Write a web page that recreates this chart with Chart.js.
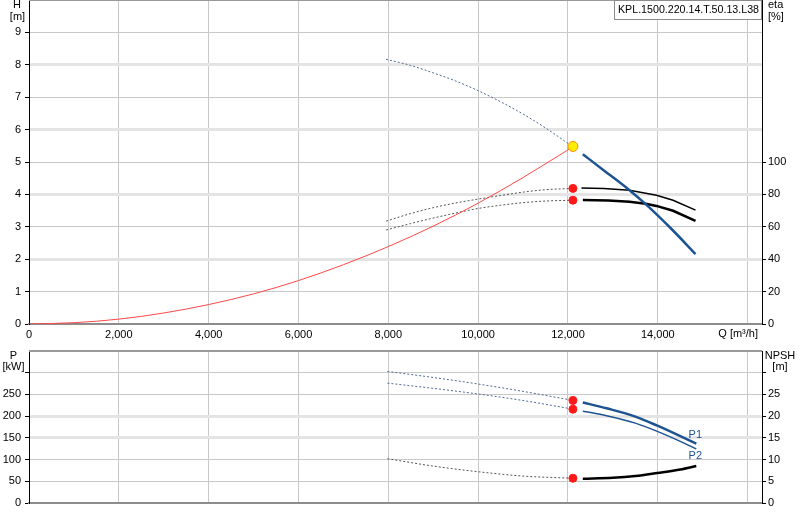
<!DOCTYPE html>
<html>
<head>
<meta charset="utf-8">
<script src="https://cdn.jsdelivr.net/npm/chart.js@4.4.0/dist/chart.umd.min.js"></script>
<style>
    html, body { margin: 0; padding: 0; background: #fff; }
    #wrap { position: relative; width: 800px; height: 520px; }
    #topChart { position: absolute; left: 0; top: 0; }
    #bottomChart { position: absolute; left: 0; top: 340px; }
</style>
</head>
<body>
<div id="wrap">
    <canvas id="topChart" width="800" height="340"></canvas>
    <canvas id="bottomChart" width="800" height="180"></canvas>
</div>
<script>
const FONT = '"Liberation Sans", Arial, sans-serif';
Chart.defaults.font.family = FONT;
Chart.defaults.font.size = 11;
Chart.defaults.color = '#000';
Chart.defaults.animation = false;

const pumpName = 'KPL.1500.220.14.T.50.13.L38';

// Tick labels
const qTicks = [0, 2000, 4000, 6000, 8000, 10000, 12000, 14000, 16000];
const hTicks = [0, 1, 2, 3, 4, 5, 6, 7, 8, 9];
const etaTicks = [0, 20, 40, 60, 80, 100];
const pTicks = [0, 50, 100, 150, 200, 250, 300];
const npshTicks = [0, 5, 10, 15, 20, 25, 30];

// Operating point
const qOp = 12110;
const hOp = 5.48;
const etaOp = [83.7, 76.4];
const pOp = [236, 216];
const npshOp = 5.7;

// System curve
const qSystem = [0, 1000, 2000, 3000, 4000, 5000, 6000, 7000, 8000, 9000, 10000, 11000, 12110];
const hSystem = [0, 0.04, 0.15, 0.34, 0.6, 0.93, 1.34, 1.83, 2.39, 3.02, 3.73, 4.52, 5.47];

// Pump head H (dashed outside range, solid in range)
const qHeadDash = [7950, 8500, 9000, 9500, 10000, 10500, 11000, 11500, 12110];
const hHeadDash = [8.17, 7.98, 7.75, 7.5, 7.2, 6.86, 6.48, 6.05, 5.47];
const qHead = [12330, 12800, 13370, 13730, 14300, 14840];
const hHead = [5.24, 4.74, 4.13, 3.70, 2.94, 2.16];

// Efficiency (upper thin, lower thick)
const qEtaDash = [7950, 8500, 9000, 9500, 10000, 10500, 11000, 11500, 12110];
const eta1Dash = [63.5, 68.2, 71.8, 74.7, 77.1, 79.3, 81.4, 82.9, 83.7];
const eta2Dash = [58.0, 62.0, 65.4, 68.5, 71.3, 73.3, 74.9, 75.9, 76.4];
const qEta1 = [12300, 12800, 13370, 13970, 14340, 14840];
const eta1 = [84.0, 83.6, 82.6, 79.5, 76.4, 70.3];
const qEta2 = [12330, 12900, 13370, 13730, 13970, 14340, 14840];
const eta2 = [76.6, 76.3, 75.5, 74.2, 72.9, 69.9, 63.7];

// Power P1 / P2 and NPSH
const qLowDash = [7980, 9000, 10000, 11000, 12120];
const p1Dash = [303, 289, 274, 257, 236];
const p2Dash = [276, 264, 251, 236, 216];
const npshDash = [10.2, 8.5, 7.2, 6.2, 5.7];
const qLow = [12330, 12860, 13500, 13990, 14500, 14857];
const p1 = [231.5, 218, 199, 178, 154, 136.5];
const p2 = [211.5, 201, 184, 165, 142, 124.5];
const qNpsh = [12330, 13000, 13500, 13990, 14500, 14857];
const npsh = [5.6, 5.8, 6.2, 6.9, 7.7, 8.5];

const BLUE = '#1d5391';
const BLUE_DASH = '#4f6b93';
const RED = '#ff4848';

const pts = (xs, ys) => xs.map((x, i) => ({ x: x, y: ys[i] }));
const thousands = v => String(v).replace(/\B(?=(\d{3})+(?!\d))/g, ',');

function line(xs, ys, color, width, dash, axis, smooth) {
    return {
        data: pts(xs, ys),
        showLine: true,
        borderColor: color,
        borderWidth: width,
        borderDash: dash || [],
        pointRadius: 0,
        pointHoverRadius: 0,
        yAxisID: axis,
        tension: 0,
        cubicInterpolationMode: smooth === false ? 'default' : 'monotone',
        fill: false
    };
}

function marker(x, y, fill, border, r, axis) {
    return {
        data: [{ x: x, y: y }],
        showLine: false,
        pointRadius: r,
        pointBackgroundColor: fill,
        pointBorderColor: border,
        pointBorderWidth: 1,
        yAxisID: axis
    };
}

const setTicks = list => scale => { scale.ticks = list.map(v => ({ value: v })); };

function xScale(height, showLabels) {
    return {
        type: 'linear',
        min: 0,
        max: 16320,
        afterBuildTicks: setTicks(qTicks),
        afterFit: s => { s.height = height; s.paddingLeft = 0; s.paddingRight = 0; },
        grid: {
            color: c => (c.tick && c.tick.value === 0) ? 'rgba(0,0,0,0)' : '#c8c8c8',
            lineWidth: 1,
            drawTicks: false
        },
        border: { color: '#8c8c8c', width: 2 },
        ticks: {
            display: showLabels,
            padding: 4,
            maxRotation: 0,
            autoSkip: false,
            callback: v => v === 16000 ? '' : thousands(v)
        }
    };
}

function leftScale(max, list, thick, hidden) {
    return {
        position: 'left',
        min: 0,
        max: max,
        afterBuildTicks: setTicks(list),
        afterFit: s => { s.width = 29; s.paddingTop = 0; s.paddingBottom = 0; },
        grid: {
            color: c => {
                const v = c.tick ? c.tick.value : 0;
                if (v === 0) return 'rgba(0,0,0,0)';
                return thick.includes(v) ? '#e4e4e4' : '#c8c8c8';
            },
            lineWidth: c => (c.tick && thick.includes(c.tick.value)) ? 3 : 1,
            tickColor: '#000',
            tickWidth: 1,
            tickLength: 4
        },
        border: { color: '#000', width: 1 },
        ticks: { padding: 4, callback: v => v === hidden ? '' : v }
    };
}

function rightScale(max, list, hidden) {
    return {
        position: 'right',
        min: 0,
        max: max,
        afterBuildTicks: setTicks(list),
        afterFit: s => { s.width = 38; s.paddingTop = 0; s.paddingBottom = 0; },
        grid: { drawOnChartArea: false, tickColor: '#000', tickWidth: 1, tickLength: 4 },
        border: { color: '#000', width: 1 },
        ticks: { padding: 2, callback: v => v === hidden ? '' : v }
    };
}

function drawTexts(ctx, items) {
    ctx.save();
    ctx.font = '11px ' + FONT;
    ctx.textBaseline = 'middle';
    items.forEach(t => {
        ctx.fillStyle = t.color || '#000';
        ctx.textAlign = t.align || 'center';
        if (t.maxWidth) ctx.fillText(t.text, t.x, t.y, t.maxWidth);
        else ctx.fillText(t.text, t.x, t.y);
    });
    ctx.restore();
}

function topBorder(chart) {
    const a = chart.chartArea, ctx = chart.ctx;
    ctx.save();
    ctx.strokeStyle = '#999';
    ctx.lineWidth = 2;
    ctx.beginPath();
    ctx.moveTo(a.left, a.top);
    ctx.lineTo(a.right, a.top);
    ctx.stroke();
    ctx.restore();
}

// Top frame line, axis titles and pump name box
const topDecor = {
    id: 'topDecor',
    beforeDatasetsDraw(chart) {
        topBorder(chart);
    },
    afterDraw(chart) {
        const ctx = chart.ctx;
        drawTexts(ctx, [
            { text: 'H', x: 17, y: 5 },
            { text: '[m]', x: 17.5, y: 17 },
            { text: 'eta', x: 768, y: 5, align: 'left' },
            { text: '[%]', x: 768, y: 17, align: 'left' },
            { text: 'Q [m\u00b3/h]', x: 758, y: 334, align: 'right' }
        ]);
        ctx.save();
        ctx.fillStyle = '#fff';
        ctx.strokeStyle = '#8a8a8a';
        ctx.lineWidth = 1;
        ctx.fillRect(614.5, 0.5, 147, 19);
        ctx.strokeRect(614.5, 0.5, 147, 19);
        ctx.restore();
        drawTexts(ctx, [{ text: pumpName, x: 618, y: 10, align: 'left', maxWidth: 141 }]);
    }
};

const bottomDecor = {
    id: 'bottomDecor',
    beforeDatasetsDraw(chart) {
        topBorder(chart);
    },
    afterDraw(chart) {
        const xs = chart.scales.x, ys = chart.scales.p;
        const n = qLow.length - 1;
        const lx = xs.getPixelForValue(qLow[n]) - 1;
        drawTexts(chart.ctx, [
            { text: 'P', x: 13.5, y: 15.5 },
            { text: '[kW]', x: 13.5, y: 26.5 },
            { text: 'NPSH', x: 780, y: 15.5 },
            { text: '[m]', x: 780, y: 27 },
            { text: 'P1', x: lx, y: ys.getPixelForValue(p1[n]) - 9, color: BLUE },
            { text: 'P2', x: lx, y: ys.getPixelForValue(p2[n]) + 7, color: BLUE }
        ]);
    }
};

new Chart(document.getElementById('topChart'), {
    type: 'scatter',
    data: {
        datasets: [
            marker(qOp, hOp, '#ffee00', '#ff8a00', 5, 'y'),
            marker(qOp, etaOp[0], '#ff1a1a', '#ff1a1a', 4, 'eta'),
            marker(qOp, etaOp[1], '#ff1a1a', '#ff1a1a', 4, 'eta'),
            line(qHead, hHead, BLUE, 2.5, null, 'y'),
            line(qEta1, eta1, '#000', 1.5, null, 'eta', false),
            line(qEta2, eta2, '#000', 2.5, null, 'eta', false),
            line(qSystem, hSystem, RED, 1, null, 'y'),
            line(qHeadDash, hHeadDash, BLUE_DASH, 1, [2, 2], 'y'),
            line(qEtaDash, eta1Dash, '#555', 1, [2, 2], 'eta'),
            line(qEtaDash, eta2Dash, '#555', 1, [2, 2], 'eta')
        ]
    },
    options: {
        responsive: false,
        layout: { padding: 0, autoPadding: false },
        plugins: { legend: { display: false }, tooltip: { enabled: false } },
        scales: {
            x: xScale(16, true),
            y: leftScale(10, hTicks, [2, 4, 6, 8], null),
            eta: rightScale(200, etaTicks, null)
        }
    },
    plugins: [topDecor]
});

new Chart(document.getElementById('bottomChart'), {
    type: 'scatter',
    data: {
        datasets: [
            marker(qOp, pOp[0], '#ff1a1a', '#ff1a1a', 4, 'p'),
            marker(qOp, pOp[1], '#ff1a1a', '#ff1a1a', 4, 'p'),
            marker(qOp, npshOp, '#ff1a1a', '#ff1a1a', 4, 'npsh'),
            line(qLow, p1, BLUE, 2.5, null, 'p'),
            line(qLow, p2, BLUE, 1.5, null, 'p'),
            line(qNpsh, npsh, '#000', 2.5, null, 'npsh'),
            line(qLowDash, p1Dash, BLUE_DASH, 1, [2, 2], 'p'),
            line(qLowDash, p2Dash, BLUE_DASH, 1, [2, 2], 'p'),
            line(qLowDash, npshDash, '#555', 1, [2, 2], 'npsh')
        ]
    },
    options: {
        responsive: false,
        layout: { padding: { top: 11 }, autoPadding: false },
        plugins: { legend: { display: false }, tooltip: { enabled: false } },
        scales: {
            x: xScale(17, false),
            p: leftScale(350, pTicks, [150, 200], 300),
            npsh: rightScale(35, npshTicks, 30)
        }
    },
    plugins: [bottomDecor]
});
</script>
</body>
</html>
